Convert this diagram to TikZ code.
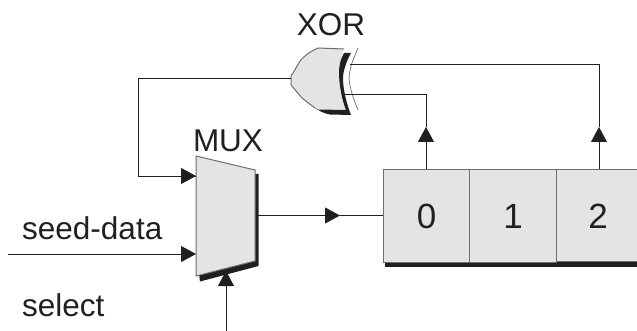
\documentclass[tikz,border=0pt]{standalone}
\usepackage{fontspec}
\setmainfont{Liberation Sans}
\usetikzlibrary{arrows.meta}
\definecolor{ink}{HTML}{231F20}
\definecolor{fillgray}{HTML}{E3E4E6}
\definecolor{edgegray}{HTML}{6D6E70}
\tikzset{
  wire/.style={draw=ink,line width=.85pt},
  arrowwire/.style={wire,-{Triangle[length=15pt,width=16pt]}},
  cell/.style={draw=edgegray,line width=1pt,fill=fillgray,minimum height=92pt,inner sep=0pt,font=\fontsize{35}{38}\selectfont,text=ink,anchor=north west},
  label/.style={inner sep=0pt,text=ink,font=\fontsize{31.5}{34}\selectfont},
  body/.style={draw=edgegray,line width=1pt,fill=fillgray},
  shadow/.style={fill=ink,draw=none}
}
\begin{document}
\begin{tikzpicture}[x=1pt,y=-1pt]
\useasboundingbox (0,0) rectangle (637,331);
% coordinates
\coordinate (muxA) at (196,176);
\coordinate (muxB) at (196,254);
\coordinate (muxOut) at (258,215.5);
\coordinate (muxS) at (226,271);
\coordinate (xorOut) at (291,78);
\coordinate (xorA) at (350,64);
\coordinate (xorB) at (345,94);
\coordinate (corner1) at (138,78);
\coordinate (corner2) at (138,176);
\coordinate (seedStart) at (8,254);
\coordinate (selStart) at (226,331);
\coordinate (midTip) at (340,215.5);
\coordinate (up0) at (426,127);
\coordinate (up2) at (599,127);
\coordinate (top0) at (426,94);
\coordinate (top2) at (599,64);
% register
\fill[shadow] (385,261) rectangle (637,266.5);
\node[cell,minimum width=86pt] (c0) at (383,169.5) {0};
\node[cell,minimum width=87pt] (c1) at (469,169.5) {1};
\path[fill=fillgray] (556,169.5) rectangle (637,261);
\draw[draw=edgegray,line width=1pt] (637,169.5) -- (556,169.5) -- (556,261) -- (637,261);
\node[inner sep=0pt,text=ink,font=\fontsize{35}{38}\selectfont] (c2) at (598,216) {2};
% MUX
\fill[shadow] (253,174) -- (258.5,174) -- (258.5,266) -- (200,281.5) -- (199,274) -- (253,260) -- cycle;
\draw[body] (196,156) -- (255,170) -- (255,261) -- (196,276) -- cycle;
\node[label] (muxlabel) at (228,141) {MUX};
% XOR
\path[fill=fillgray] (291,76) -- (300,61) .. controls (305,55) and (311,51) .. (318,48) -- (344,49)
  .. controls (341,57) and (339,66) .. (339,72) .. controls (340,85) and (345,100) .. (350,112)
  -- (318,110) .. controls (312,106) and (307,102) .. (302,98) -- (291,85) -- cycle;
\draw[draw=edgegray,line width=1pt] (291,85) -- (291,76) -- (293,73) -- (300,61) .. controls (305,55) and (311,51) .. (318,48) -- (344,49);
\draw[draw=edgegray,line width=1pt] (291,85) -- (302,98) .. controls (307,102) and (311,105) .. (315,108);
\fill[shadow] (344,53) -- (351,53) .. controls (346,62) and (343,72) .. (343,78)
  .. controls (343,90) and (347,105) .. (351,115) -- (330,114.5) .. controls (323,113.5) and (318,110) .. (314,107)
  -- (318,109.5) -- (346,110) .. controls (342,100) and (339,85) .. (339,72) .. controls (339,65) and (341,58) .. (344,53) -- cycle;
\draw[draw=edgegray,line width=.7pt] (358,48) .. controls (354,58) and (350,65) .. (349,78) .. controls (350,90) and (354,100) .. (358,110);
\node[label] (xorlabel) at (331,24.5) {XOR};
% text
\node[label,anchor=base west] (seed) at (22,240) {seed-data};
\node[label,anchor=base west] (sel) at (22,316) {select};
% wires
\draw[wire] (xorOut) -- (corner1) -- (corner2) -- (muxA);
\draw[arrowwire] (corner2) -- (muxA);
\draw[arrowwire] (seedStart) -- (muxB);
\draw[arrowwire] (selStart) -- (muxS);
\draw[arrowwire] (muxOut) -- (midTip);
\draw[wire] (midTip) -- (midTip -| c0.west);
\draw[arrowwire] (up0 |- c0.north) -- (up0);
\draw[arrowwire] (up2 |- c0.north) -- (up2);
\draw[wire] (up0) -- (top0) -- (xorB);
\draw[wire] (up2) -- (top2) -- (xorA);
\end{tikzpicture}
\end{document}
